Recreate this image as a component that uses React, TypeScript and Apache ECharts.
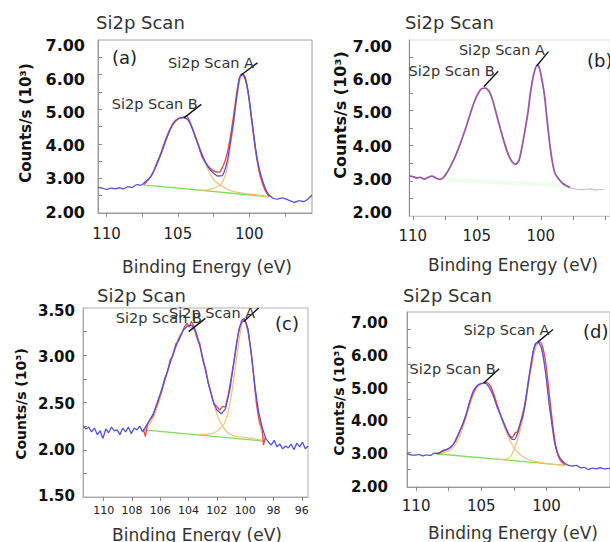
import React, { useEffect, useRef } from "react";
import * as echarts from "echarts";

// ---------- Panel (a) ----------
const aRaw = [[110.6,2.75],[110.3,2.72],[110.0,2.68],[109.7,2.72],[109.4,2.70],[109.1,2.73],[108.8,2.70],[108.5,2.76],[108.2,2.74],[107.9,2.82],[107.6,2.80],[107.3,2.90],[107.0,3.00],[106.7,3.20],[106.4,3.48],[106.1,3.80],[105.8,4.15],[105.5,4.45],[105.2,4.65],[104.9,4.74],[104.6,4.76],[104.3,4.70],[104.0,4.45],[103.7,4.10],[103.4,3.78],[103.1,3.50],[102.8,3.28],[102.5,3.15],[102.2,3.07],[101.9,3.08],[101.7,3.25],[101.5,3.58],[101.3,4.10],[101.1,4.64],[100.9,5.30],[100.7,5.85],[100.55,6.0],[100.4,5.98],[100.2,5.75],[100.0,5.30],[99.8,4.65],[99.6,4.00],[99.4,3.48],[99.2,3.12],[99.0,2.85],[98.8,2.65],[98.6,2.52],[98.3,2.42],[98.0,2.40],[97.7,2.44],[97.4,2.40],[97.1,2.35],[96.8,2.31],[96.5,2.36],[96.2,2.33],[95.9,2.40],[95.6,2.52]];
const aFit = [[107.4,2.82],[107.1,2.95],[106.8,3.12],[106.5,3.42],[106.2,3.72],[105.9,4.08],[105.6,4.38],[105.3,4.62],[105.0,4.72],[104.7,4.76],[104.4,4.80],[104.2,4.68],[103.9,4.35],[103.6,4.00],[103.3,3.62],[103.0,3.42],[102.7,3.28],[102.4,3.20],[102.1,3.18],[101.9,3.30],[101.7,3.50],[101.5,3.80],[101.3,4.25],[101.1,4.80],[100.9,5.40],[100.7,5.90],[100.5,6.02],[100.3,5.95],[100.1,5.55],[99.9,4.90],[99.7,4.25],[99.5,3.65],[99.3,3.20],[99.1,2.90],[98.9,2.68],[98.6,2.48]];
const aBg = [[107.44,2.81],[98.6,2.47]];
const aCompB = [[107.4,2.82],[107.0,2.98],[106.6,3.28],[106.2,3.70],[105.8,4.12],[105.4,4.50],[105.0,4.70],[104.7,4.75],[104.4,4.72],[104.0,4.48],[103.6,4.05],[103.2,3.58],[102.8,3.18],[102.4,2.92],[102.0,2.80],[101.6,2.70],[101.2,2.63],[100.8,2.60],[100.4,2.57],[100.0,2.55],[99.6,2.53],[99.2,2.51],[98.6,2.47]];
const aCompA = [[103.4,2.67],[103.0,2.66],[102.6,2.70],[102.3,2.75],[102.0,2.82],[101.7,3.05],[101.5,3.40],[101.3,3.95],[101.1,4.55],[100.9,5.20],[100.7,5.75],[100.55,5.96],[100.4,5.95],[100.2,5.70],[100.0,5.25],[99.8,4.62],[99.6,3.98],[99.4,3.42],[99.2,3.02],[99.0,2.75],[98.8,2.57],[98.6,2.47]];
const aLeadA = [[100.59,5.98],[99.42,6.34]];
const aLeadB = [[104.57,4.75],[103.36,5.14]];

// ---------- Panel (b) ----------
const bRaw = [[110.3,3.14],[110.0,3.12],[109.7,3.08],[109.4,3.10],[109.1,3.05],[108.8,3.10],[108.5,3.13],[108.2,3.08],[107.9,3.04],[107.6,3.10],[107.3,3.25],[107.0,3.45],[106.7,3.68],[106.4,3.95],[106.1,4.25],[105.8,4.57],[105.5,4.92],[105.2,5.24],[104.9,5.48],[104.6,5.62],[104.3,5.63],[104.0,5.52],[103.7,5.22],[103.4,4.80],[103.1,4.40],[102.8,4.02],[102.5,3.71],[102.2,3.52],[101.95,3.47],[101.7,3.58],[101.5,3.90],[101.3,4.29],[101.0,4.95],[100.8,5.52],[100.6,5.95],[100.4,6.22],[100.25,6.29],[100.1,6.20],[99.9,5.85],[99.7,5.40],[99.5,4.70],[99.3,4.05],[99.1,3.55],[98.9,3.22],[98.6,3.05],[98.3,2.93],[98.0,2.86],[97.7,2.81]];
const bTail = [[97.7,2.80],[97.2,2.76],[96.7,2.75],[96.2,2.77],[95.7,2.74],[95.0,2.76]];
const bBg = [[107.3,3.03],[98.0,2.86]];
const bLeadA = [[100.31,6.27],[99.4,6.67]];
const bLeadB = [[104.45,5.67],[103.33,6.11]];

// ---------- Panel (c) ----------
const cRaw = [[111.45,2.25],[111.25,2.22],[111.05,2.24],[110.85,2.19],[110.65,2.23],[110.45,2.16],[110.25,2.20],[110.05,2.12],[109.85,2.22],[109.65,2.18],[109.45,2.24],[109.25,2.20],[109.05,2.21],[108.85,2.16],[108.65,2.23],[108.45,2.19],[108.25,2.24],[108.05,2.17],[107.85,2.23],[107.65,2.21],[107.45,2.25],[107.25,2.19],[107.05,2.24],[106.8,2.30],[106.5,2.38],[106.2,2.49],[105.9,2.64],[105.6,2.78],[105.3,2.92],[105.0,3.05],[104.7,3.17],[104.4,3.26],[104.1,3.31],[103.8,3.32],[103.5,3.26],[103.2,3.10],[102.9,2.90],[102.6,2.70],[102.3,2.53],[102.0,2.42],[101.7,2.38],[101.4,2.43],[101.1,2.62],[100.8,2.92],[100.5,3.22],[100.25,3.37],[100.05,3.39],[99.8,3.28],[99.55,3.00],[99.3,2.66],[99.05,2.40],[98.8,2.24],[98.55,2.12],[98.35,2.08],[98.15,2.05],[97.95,2.10],[97.75,2.03],[97.55,2.06],[97.35,2.01],[97.15,2.04],[96.95,2.02],[96.75,2.06],[96.55,2.00],[96.35,2.07],[96.15,2.03],[95.95,2.08],[95.75,2.01],[95.55,2.04]];
const cFit = [[107.2,2.22],[107.05,2.14],[106.9,2.27],[106.7,2.32],[106.5,2.36],[106.3,2.46],[106.1,2.55],[105.9,2.62],[105.7,2.75],[105.5,2.82],[105.3,2.95],[105.1,3.00],[104.9,3.12],[104.7,3.15],[104.5,3.22],[104.3,3.30],[104.1,3.34],[103.95,3.30],[103.8,3.36],[103.6,3.30],[103.4,3.18],[103.2,3.12],[103.0,2.95],[102.8,2.86],[102.6,2.70],[102.4,2.60],[102.2,2.48],[102.0,2.46],[101.8,2.42],[101.6,2.46],[101.4,2.45],[101.2,2.58],[101.0,2.75],[100.8,2.93],[100.6,3.14],[100.4,3.30],[100.2,3.36],[100.0,3.37],[99.8,3.25],[99.6,3.05],[99.4,2.78],[99.2,2.48],[99.0,2.30],[98.8,2.22],[98.7,2.05],[98.6,2.12]];
const cBg = [[107.17,2.21],[98.57,2.09]];
const cCompB = [[107.2,2.21],[106.8,2.26],[106.4,2.37],[106.0,2.55],[105.6,2.76],[105.2,2.97],[104.8,3.15],[104.4,3.26],[104.0,3.30],[103.7,3.28],[103.4,3.18],[103.0,2.98],[102.6,2.72],[102.2,2.47],[101.9,2.34],[101.6,2.25],[101.3,2.19],[101.0,2.16],[100.6,2.14],[100.2,2.135],[99.8,2.125],[99.4,2.115],[98.6,2.09]];
const cCompA = [[103.4,2.16],[103.0,2.16],[102.6,2.165],[102.2,2.18],[101.9,2.21],[101.5,2.27],[101.2,2.40],[100.9,2.65],[100.6,2.98],[100.3,3.28],[100.1,3.36],[99.9,3.33],[99.7,3.18],[99.5,2.92],[99.3,2.64],[99.1,2.40],[98.9,2.22],[98.6,2.10]];
const cLeadA = [[100.11,3.355],[99.05,3.50]];
const cLeadB = [[103.99,3.25],[102.81,3.39]];

// ---------- Panel (d) ----------
const dRaw = [[110.7,2.95],[110.4,2.92],[110.1,2.91],[109.8,2.93],[109.5,2.89],[109.2,2.92],[108.9,2.90],[108.6,2.97],[108.3,2.95],[108.0,3.02],[107.7,3.06],[107.4,3.12],[107.1,3.25],[106.8,3.48],[106.5,3.72],[106.2,4.02],[105.9,4.43],[105.6,4.75],[105.3,4.90],[105.0,4.96],[104.7,4.97],[104.4,4.85],[104.1,4.62],[103.8,4.30],[103.5,4.02],[103.2,3.75],[102.9,3.50],[102.7,3.38],[102.45,3.36],[102.2,3.55],[102.0,3.80],[101.8,4.05],[101.6,4.45],[101.4,4.98],[101.2,5.45],[101.0,5.92],[100.8,6.12],[100.6,6.12],[100.4,5.98],[100.2,5.60],[100.0,5.05],[99.8,4.38],[99.6,3.85],[99.4,3.32],[99.2,3.02],[99.0,2.85],[98.6,2.68],[98.3,2.62],[98.0,2.60],[97.7,2.62],[97.4,2.55],[97.1,2.56],[96.8,2.50],[96.5,2.54],[96.2,2.52],[95.9,2.55],[95.5,2.52],[95.0,2.54]];
const dFit = [[108.5,2.96],[108.2,2.98],[107.9,3.05],[107.6,3.08],[107.3,3.15],[107.0,3.30],[106.7,3.55],[106.4,3.82],[106.1,4.15],[105.8,4.52],[105.5,4.78],[105.2,4.92],[104.9,4.96],[104.6,4.99],[104.3,4.88],[104.0,4.60],[103.7,4.25],[103.4,3.95],[103.1,3.68],[102.8,3.45],[102.6,3.42],[102.4,3.55],[102.25,3.57],[102.1,3.72],[101.9,3.98],[101.7,4.30],[101.5,4.75],[101.3,5.25],[101.1,5.70],[100.9,6.02],[100.7,6.13],[100.5,6.14],[100.3,6.00],[100.1,5.65],[99.9,5.05],[99.7,4.35],[99.5,3.70],[99.3,3.20],[99.1,2.90],[98.9,2.75],[98.6,2.64]];
const dBg = [[108.47,2.95],[98.56,2.62]];
const dCompB = [[108.5,2.95],[108.0,2.97],[107.5,3.03],[107.0,3.20],[106.6,3.50],[106.2,3.95],[105.8,4.42],[105.4,4.80],[105.0,4.95],[104.7,4.97],[104.4,4.86],[104.0,4.55],[103.6,4.12],[103.2,3.68],[102.8,3.32],[102.45,3.10],[102.1,2.95],[101.7,2.84],[101.3,2.77],[100.9,2.73],[100.5,2.70],[100.0,2.67],[99.5,2.65],[99.0,2.63],[98.6,2.62]];
const dCompA = [[103.8,2.80],[103.4,2.79],[103.0,2.80],[102.7,2.90],[102.45,3.10],[102.2,3.38],[101.9,3.80],[101.6,4.40],[101.3,5.10],[101.0,5.70],[100.8,6.00],[100.6,6.10],[100.4,5.97],[100.2,5.62],[100.0,5.08],[99.8,4.42],[99.6,3.80],[99.4,3.30],[99.2,2.98],[99.0,2.78],[98.8,2.68],[98.6,2.63]];
const dLeadA = [[100.68,6.14],[99.5,6.5]];
const dLeadB = [[104.81,4.97],[103.63,5.38]];

// ---------- Tick / label values ----------
const xTicks5 = [95, 97.5, 100, 102.5, 105, 107.5, 110];
const xLabels5 = [100, 105, 110];
const xTicksC = [96, 98, 100, 102, 104, 106, 108, 110];
const xLabelsC = [96, 98, 100, 102, 104, 106, 108, 110];
const yTicks7 = [2.5, 3, 3.5, 4, 4.5, 5, 5.5, 6, 6.5];
const yLabels7 = [2, 3, 4, 5, 6, 7];
const yTicksC = [1.75, 2, 2.25, 2.5, 2.75, 3, 3.25];
const yLabelsC = [1.5, 2, 2.5, 3, 3.5];

const TITLE = "Si2p Scan";
const XNAME = "Binding Energy (eV)";
const YNAME = "Counts/s (10³)";
const PEAK_A = "Si2p Scan A";
const PEAK_B = "Si2p Scan B";

const BLUE = "#5252e4";
const RED = "#e64848";
const ORANGE = "#f4c071";
const GREEN = "#7ede58";
const PURPLE = "#9a58a6";

export default function App() {
  const ref = useRef<HTMLDivElement>(null);
  useEffect(() => {
    if (!ref.current) return;
    const chart = echarts.init(ref.current, null, { renderer: "svg" });

    const grids = [
      { left: 98, top: 40, width: 214, height: 173, show: true, borderColor: "#a0a0a0", borderWidth: 1 },
      { left: 409, top: 40, width: 220, height: 176, show: true, borderColor: "#dedede", borderWidth: 1 },
      { left: 83, top: 308, width: 225, height: 189, show: true, borderColor: "#b0b0b0", borderWidth: 1 },
      { left: 407, top: 312, width: 220, height: 175, show: true, borderColor: "#b0b0b0", borderWidth: 1 },
    ];

    const xCfg = [
      { min: 95.6, max: 110.6, ticks: xTicks5, labels: xLabels5, margin: 13, fs: 15, lc: "#999" },
      { min: 94.59, max: 110.3, ticks: xTicks5, labels: xLabels5, margin: 12, fs: 15, lc: "#c8c8c8" },
      { min: 95.56, max: 111.46, ticks: xTicksC, labels: xLabelsC, margin: 8, fs: 11, lc: "#aaa" },
      { min: 95.13, max: 110.7, ticks: xTicks5, labels: xLabels5, margin: 11, fs: 15, lc: "#999" },
    ];
    const xAxis = xCfg.map((c, i) => ({
      type: "value",
      gridIndex: i,
      inverse: true,
      min: c.min,
      max: c.max,
      axisLine: { show: true, lineStyle: { color: c.lc, width: 1 } },
      axisTick: { show: true, customValues: c.ticks, length: 4, lineStyle: { color: "#888" } },
      axisLabel: { customValues: c.labels, margin: c.margin, fontSize: c.fs, fontFamily: "DejaVu Sans", color: "#222" },
      splitLine: { show: false },
    }));

    const yMain = [
      { min: 2, max: 7, ticks: yTicks7, lc: "#999" },
      { min: 2, max: 7, ticks: yTicks7, lc: "#888" },
      { min: 1.5, max: 3.5, ticks: yTicksC, lc: "#aaa" },
      { min: 2, max: 7, ticks: yTicks7, lc: "#999" },
    ].map((c, i) => ({
      type: "value",
      gridIndex: i,
      min: c.min,
      max: c.max,
      axisLine: { show: true, lineStyle: { color: c.lc, width: 1 } },
      axisTick: { show: true, inside: true, customValues: c.ticks, length: 4, lineStyle: { color: "#888" } },
      axisLabel: { show: false },
      splitLine: { show: false },
    }));
    const yLab = [
      { min: 1.97, max: 7.18, labels: yLabels7, margin: 13, fs: 16 },
      { min: 1.91, max: 7.18, labels: yLabels7, margin: 17, fs: 16 },
      { min: 1.49, max: 3.533, labels: yLabelsC, margin: 8, fs: 15 },
      { min: 2, max: 7.335, labels: yLabels7, margin: 19, fs: 15 },
    ].map((c, i) => ({
      type: "value",
      gridIndex: i,
      position: "left",
      min: c.min,
      max: c.max,
      axisLine: { show: false },
      axisTick: { show: false },
      splitLine: { show: false },
      axisLabel: {
        customValues: c.labels,
        margin: c.margin,
        fontSize: c.fs,
        fontWeight: "bold",
        fontFamily: "DejaVu Sans",
        color: "#111",
        formatter: (v: number) => v.toFixed(2),
      },
    }));

    const line = (data: number[][], i: number, color: string, width: number, smooth: any = 0.25, opacity = 1) => ({
      type: "line",
      data,
      xAxisIndex: i,
      yAxisIndex: i,
      symbol: "none",
      showSymbol: false,
      smooth,
      silent: true,
      lineStyle: { color, width, opacity },
    });
    const leader = (pts: number[][], i: number, text: string, offset: number[] = [0, 0]) => ({
      type: "line",
      data: pts,
      xAxisIndex: i,
      yAxisIndex: i,
      symbol: "none",
      showSymbol: false,
      silent: true,
      clip: false,
      lineStyle: { color: "#151515", width: 1.4 },
      markPoint: {
        symbol: "circle",
        symbolSize: 1,
        silent: true,
        itemStyle: { color: "rgba(0,0,0,0)" },
        label: {
          show: true,
          position: "left",
          distance: 3,
          offset,
          formatter: text,
          color: "#333",
          fontSize: 14.5,
          fontFamily: "DejaVu Sans",
        },
        data: [{ coord: pts[pts.length - 1] }],
      },
    });

    const series = [
      // (a)
      line(aBg, 0, GREEN, 1.3, false),
      line(aCompB, 0, ORANGE, 1.2),
      line(aCompA, 0, ORANGE, 1.2),
      line(aFit, 0, RED, 1.4),
      line(aRaw, 0, BLUE, 1.3, 0.15),
      leader(aLeadA, 0, PEAK_A),
      leader(aLeadB, 0, PEAK_B),
      // (b)
      line(bBg, 1, GREEN, 4, false, 0.12),
      line(bTail, 1, "#7070c0", 1.2, 0.2, 0.45),
      line(bRaw, 1, PURPLE, 1.8, 0.2),
      leader(bLeadA, 1, PEAK_A, [0, -2]),
      leader(bLeadB, 1, PEAK_B),
      // (c)
      line(cBg, 2, GREEN, 1.3, false),
      line(cCompB, 2, ORANGE, 1.2),
      line(cCompA, 2, ORANGE, 1.2),
      line(cFit, 2, RED, 1.3, false),
      line(cRaw, 2, BLUE, 1.3, false),
      leader(cLeadB, 2, PEAK_B),
      leader(cLeadA, 2, PEAK_A, [0, 5]),
      // (d)
      line(dBg, 3, GREEN, 1.3, false),
      line(dCompB, 3, ORANGE, 1.2),
      line(dCompA, 3, ORANGE, 1.2),
      line(dFit, 3, RED, 1.4),
      line(dRaw, 3, BLUE, 1.3, 0.15),
      leader(dLeadA, 3, PEAK_A),
      leader(dLeadB, 3, PEAK_B),
    ];

    const txt = (x: number, y: number, text: string, o: any = {}) => ({
      type: "text",
      x,
      y,
      rotation: o.rotation || 0,
      silent: true,
      style: {
        text,
        fill: o.fill || "#333",
        fontSize: o.fontSize || 17,
        fontWeight: o.fontWeight || "normal",
        fontFamily: o.fontFamily || "DejaVu Sans",
        align: o.align || "left",
        verticalAlign: "middle",
        textAlign: o.align || "left",
        textVerticalAlign: "middle",
      },
    });

    const graphic = [
      txt(96, 22, TITLE, { fontSize: 18 }),
      txt(405, 22, TITLE, { fontSize: 18 }),
      txt(97, 295, TITLE, { fontSize: 18 }),
      txt(403, 295, TITLE, { fontSize: 18 }),
      txt(112, 57, "(a)", { fontSize: 18, fill: "#222" }),
      txt(587, 60, "(b)", { fontSize: 18, fill: "#222" }),
      txt(275, 323, "(c)", { fontSize: 18, fill: "#222" }),
      txt(583, 331, "(d)", { fontSize: 18, fill: "#222" }),
      txt(207, 267, XNAME, { fontSize: 17, align: "center" }),
      txt(513, 265, XNAME, { fontSize: 17, align: "center" }),
      txt(197, 535, XNAME, { fontSize: 17, align: "center" }),
      txt(513, 533, XNAME, { fontSize: 17, align: "center" }),
      txt(26, 123, YNAME, { fontSize: 15, fontWeight: "bold", fill: "#111", align: "center", rotation: Math.PI / 2 }),
      txt(340, 115, YNAME, { fontSize: 16, fontWeight: "bold", fill: "#111", align: "center", rotation: Math.PI / 2 }),
      txt(21, 404, YNAME, { fontSize: 14, fontWeight: "bold", fill: "#111", align: "center", rotation: Math.PI / 2 }),
      txt(339, 400, YNAME, { fontSize: 14, fontWeight: "bold", fill: "#111", align: "center", rotation: Math.PI / 2 }),
    ];

    chart.setOption({
      animation: false,
      backgroundColor: "#ffffff",
      grid: grids,
      xAxis,
      yAxis: [...yMain, ...yLab],
      series,
      graphic,
    });
    return () => chart.dispose();
  }, []);

  return (
    <div
      ref={ref}
      style={{ position: "fixed", left: 0, top: 0, width: 610, height: 542, background: "#fff" }}
    />
  );
}
